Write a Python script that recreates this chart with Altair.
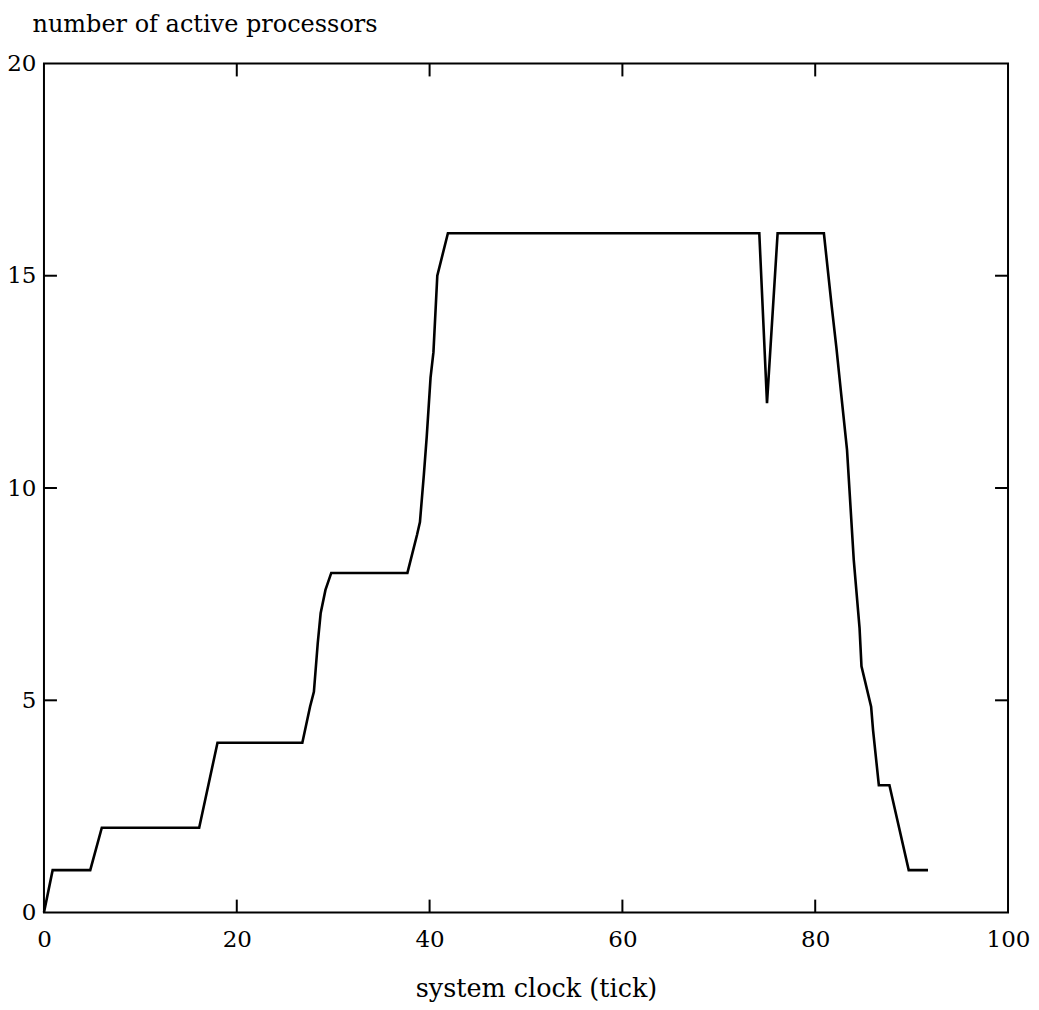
import altair as alt
import pandas as pd

# system clock (tick) and number of active processors
ticks_x = [0, 0.9, 4.8, 6.0, 16.1, 18.0, 26.8, 27.6, 28.0, 28.4, 28.7, 29.2, 29.8,
           37.7, 38.7, 39.0, 39.4, 39.7, 40.1, 40.4, 40.8, 41.9,
           74.2, 75.0, 76.1, 80.9, 81.7, 82.2, 82.7, 83.3, 84.0, 84.6, 84.8,
           85.8, 86.0, 86.6, 87.7, 88.2, 89.7, 91.7]
active = [0, 1, 1, 2, 2, 4, 4, 4.85, 5.2, 6.35, 7.05, 7.6, 8,
          8, 8.9, 9.2, 10.3, 11.2, 12.6, 13.2, 15, 16,
          16, 12, 16, 16, 14.3, 13.3, 12.2, 10.9, 8.3, 6.7, 5.8,
          4.85, 4.3, 3, 3, 2.5, 1, 1]

x_tick_values = [0, 20, 40, 60, 80, 100]
y_tick_values = [0, 5, 10, 15, 20]

X_TITLE = "system clock (tick)"
Y_TITLE = "number of active processors"

W, H = 965, 850
FONT = "DejaVu Serif"

df = pd.DataFrame({"t": ticks_x, "n": active})
xt = pd.DataFrame({"v": x_tick_values[1:-1]})
yt = pd.DataFrame({"v": y_tick_values[1:-1]})

xscale = alt.Scale(domain=[0, 100], nice=False, zero=False)
yscale = alt.Scale(domain=[0, 20], nice=False, zero=False)

line = alt.Chart(df).mark_line(color="black", strokeWidth=2.6).encode(
    x=alt.X("t:Q", scale=xscale, title=X_TITLE,
            axis=alt.Axis(values=x_tick_values, labelFlush=False,
                          titleX=W / 2 + 10, titleY=84, titleBaseline="alphabetic",
                          titleFontSize=25.5, labelPadding=16)),
    y=alt.Y("n:Q", scale=yscale, title=Y_TITLE,
            axis=alt.Axis(values=y_tick_values, labelFlush=False,
                          titleAngle=0, titleAlign="left", titleBaseline="alphabetic",
                          titleX=-12, titleY=-32, labelPadding=8)),
)

xb = alt.Chart(xt).mark_rule(color="black", strokeWidth=2).encode(
    x=alt.X("v:Q", scale=xscale, title=X_TITLE), y=alt.value(H), y2=alt.value(H - 13))
xtop = alt.Chart(xt).mark_rule(color="black", strokeWidth=2).encode(
    x=alt.X("v:Q", scale=xscale, title=X_TITLE), y=alt.value(0), y2=alt.value(13))
yl = alt.Chart(yt).mark_rule(color="black", strokeWidth=2).encode(
    y=alt.Y("v:Q", scale=yscale, title=Y_TITLE), x=alt.value(0), x2=alt.value(13))
yr = alt.Chart(yt).mark_rule(color="black", strokeWidth=2).encode(
    y=alt.Y("v:Q", scale=yscale, title=Y_TITLE), x=alt.value(W), x2=alt.value(W - 13))

chart = alt.layer(line, xb, xtop, yl, yr).properties(
    width=W, height=H,
    autosize=alt.AutoSizeParams(type="none"),
    padding={"left": 36, "top": 55, "right": 23, "bottom": 92},
).configure_view(
    stroke="black", strokeWidth=2
).configure_axis(
    domain=False, ticks=False, grid=False,
    labelFont=FONT, labelFontSize=23, labelColor="black",
    titleFont=FONT, titleFontSize=24, titleColor="black", titleFontWeight="normal",
)

chart.save("out.html", embed_options={"renderer": "svg", "actions": False})
